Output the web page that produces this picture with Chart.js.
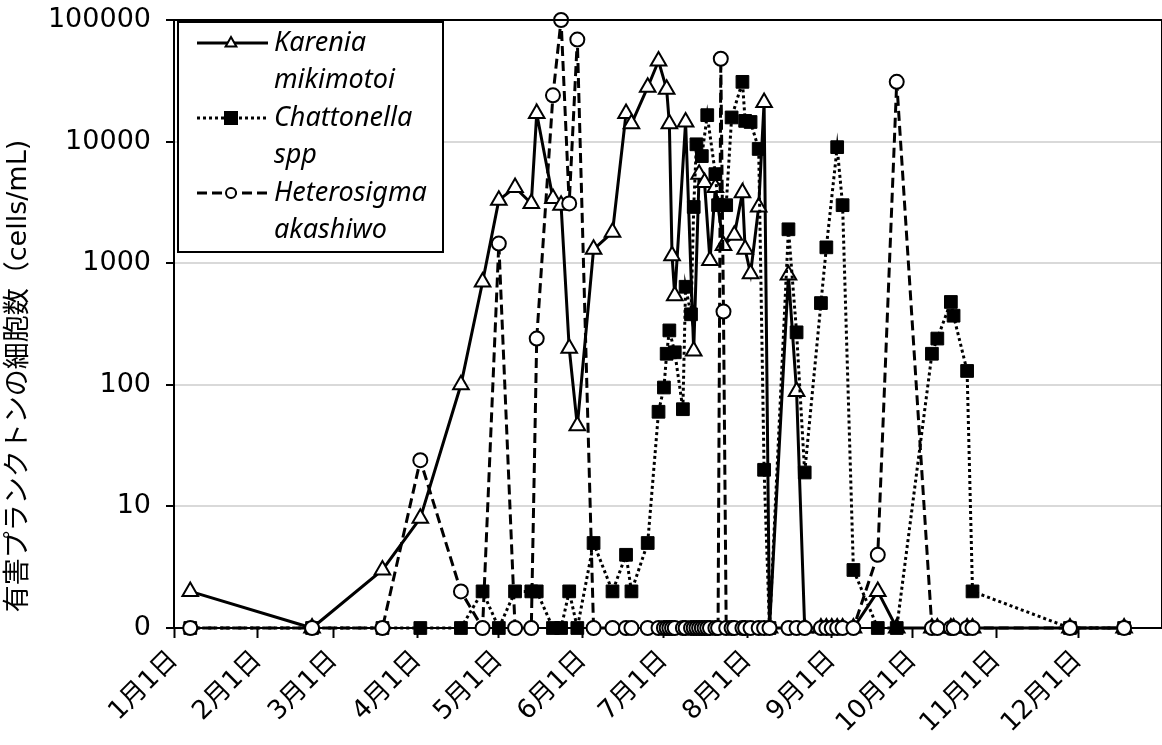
<!DOCTYPE html>
<html>
<head>
<meta charset="utf-8">
<script src="https://cdn.jsdelivr.net/npm/chart.js@4.4.1/dist/chart.umd.min.js"></script>
<style>
  html, body { margin: 0; padding: 0; background: #fff; }
  canvas { display: block; }
</style>
</head>
<body>
<canvas id="chart" width="1162" height="745"></canvas>
<script>
// sampling dates (month/day) and cell counts per species, null = no point drawn
const sampleDates = ['1/7', '2/21', '3/19', '4/2', '4/17', '4/25', '5/1', '5/7', '5/13', '5/15',
  '5/21', '5/24', '5/27', '5/30', '6/5', '6/12', '6/17', '6/19', '6/25', '6/29',
  '7/1', '7/2', '7/3', '7/4', '7/5', '7/8', '7/9', '7/11', '7/12', '7/13',
  '7/14', '7/15', '7/16', '7/17', '7/18', '7/20', '7/21', '7/22', '7/23', '7/24',
  '7/26', '7/27', '7/30', '7/31', '8/2', '8/5', '8/7', '8/9', '8/16', '8/19',
  '8/22', '8/28', '8/30', '9/1', '9/3', '9/5', '9/9', '9/18', '9/25', '10/8',
  '10/10', '10/15', '10/16', '10/21', '10/23', '11/28', '12/18'];

const karenia = [2, 0, 3, 8, 100, 700, 3300, 4200, 3100, 17000,
  3400, 3000, 200, 46, 1300, 1800, 17000, 14000, 28000, 46000,
  null, 27000, 14000, 1150, 540, null, 14500, null, 190, null,
  5400, null, 4600, null, 1050, 4200, null, null, 1400, null,
  null, 1700, 3800, 1300, 820, 2900, 21000, 0, 800, 88,
  0, 0, 0, 0, 0, 0, 0, 2, 0, 0,
  0, 0, 0, 0, 0, 0, 0];

const chattonella = [0, 0, 0, 0, 0, 2, 0, 2, 2, 2,
  0, 0, 2, 0, 5, 2, 4, 2, 5, 60,
  95, 180, 280, null, 185, 63, 640, 380, 2900, 9500,
  null, 7600, null, 16500, null, 5400, 3000, null, null, 3000,
  15800, null, 31000, 14800, 14500, 8700, 20, 0, 1900, 270,
  19, 470, 1350, null, 9000, 3000, 3, 0, 0, 180,
  240, 480, 370, 130, 2, 0, 0];

const heterosigma = [0, 0, 0, 24, 2, 0, 1450, 0, 0, 240,
  24000, 100000, 3100, 69000, 0, 0, 0, 0, 0, 0,
  0, 0, 0, 0, 0, 0, 0, 0, 0, 0,
  0, 0, 0, 0, 0, 0, 0, 48000, 400, 0,
  0, 0, 0, 0, 0, 0, 0, 0, 0, 0,
  0, 0, 0, 0, 0, 0, 0, 4, 31000, 0,
  0, 0, 0, 0, 0, 0, 0];

const monthLabels = ['1月1日', '2月1日', '3月1日', '4月1日', '5月1日', '6月1日',
  '7月1日', '8月1日', '9月1日', '10月1日', '11月1日', '12月1日'];
const yTickValues = [0, 10, 100, 1000, 10000, 100000];
const seriesNames = [['Karenia', 'mikimotoi'], ['Chattonella', 'spp'], ['Heterosigma', 'akashiwo']];
const yTitle = '有害プランクトンの細胞数（cells/mL)';

const monthStart = [0, 31, 59, 90, 120, 151, 181, 212, 243, 273, 304, 334];
const FONT = "'DejaVu Sans', 'Noto Sans CJK JP', sans-serif";

function dayOfYear(md) {
  const [m, d] = md.split('/').map(Number);
  return monthStart[m - 1] + d - 1;
}

// zero counts sit on the bottom of the log axis (labelled 0)
function toPoints(values) {
  return sampleDates.map((d, i) => ({
    x: dayOfYear(d),
    y: values[i] === null ? null : Math.max(values[i], 1)
  }));
}

const frame = {
  id: 'frame',
  afterDatasetsDraw(chart) {
    const { ctx, chartArea: a } = chart;
    ctx.save();
    ctx.strokeStyle = '#000';
    ctx.lineWidth = 2;
    ctx.beginPath();
    ctx.moveTo(a.left, a.top);
    ctx.lineTo(a.right, a.top);
    ctx.lineTo(a.right, a.bottom);
    ctx.stroke();
    ctx.restore();
  }
};

// y title sits a bit below the middle of the plot, like the original
const yTitlePlugin = {
  id: 'yTitle',
  afterDraw(chart) {
    const ctx = chart.ctx;
    ctx.save();
    ctx.translate(19, 376);
    ctx.rotate(-Math.PI / 2);
    ctx.fillStyle = '#000';
    ctx.font = '27px ' + FONT;
    ctx.textAlign = 'center';
    ctx.textBaseline = 'middle';
    ctx.fillText(yTitle, 0, 0);
    ctx.restore();
  }
};

function drawMarker(ctx, style, x, y, r) {
  ctx.beginPath();
  if (style === 'triangle') {
    ctx.moveTo(x, y - r);
    ctx.lineTo(x + r * 0.9, y + r * 0.6);
    ctx.lineTo(x - r * 0.9, y + r * 0.6);
    ctx.closePath();
    ctx.fillStyle = '#fff';
  } else if (style === 'rect') {
    ctx.rect(x - r, y - r, 2 * r, 2 * r);
    ctx.fillStyle = '#000';
  } else {
    ctx.arc(x, y, r, 0, Math.PI * 2);
    ctx.fillStyle = '#fff';
  }
  ctx.fill();
  ctx.stroke();
}

const boxLegend = {
  id: 'boxLegend',
  afterDraw(chart) {
    const ctx = chart.ctx;
    const left = chart.chartArea.left + 4, top = chart.chartArea.top + 2;
    const w = 265, h = 230;
    ctx.save();
    ctx.fillStyle = '#fff';
    ctx.fillRect(left, top, w, h);
    ctx.strokeStyle = '#000';
    ctx.lineWidth = 2;
    ctx.strokeRect(left, top, w, h);
    chart.data.datasets.forEach((ds, i) => {
      const y = top + 21 + i * 75;
      ctx.strokeStyle = '#000';
      ctx.lineWidth = ds.borderWidth;
      ctx.setLineDash(ds.borderDash || []);
      ctx.beginPath();
      ctx.moveTo(left + 19, y);
      ctx.lineTo(left + 90, y);
      ctx.stroke();
      ctx.setLineDash([]);
      ctx.lineWidth = 2;
      drawMarker(ctx, ds.pointStyle, left + 53, y, ds.pointStyle === 'circle' ? 5 : 6);
      ctx.fillStyle = '#000';
      ctx.font = "italic 27px 'Noto Sans', sans-serif";
      ctx.textBaseline = 'middle';
      ctx.textAlign = 'left';
      ctx.fillText(seriesNames[i][0], left + 96, y);
      ctx.fillText(seriesNames[i][1], left + 96, y + 37.5);
    });
    ctx.restore();
  }
};

new Chart(document.getElementById('chart'), {
  type: 'line',
  data: {
    datasets: [
      {
        label: seriesNames[0].join(' '),
        data: toPoints(karenia),
        order: 3,
        borderColor: '#000',
        borderWidth: 3,
        pointStyle: 'triangle',
        pointRadius: 9,
        pointBorderWidth: 2,
        pointBackgroundColor: '#fff',
        pointBorderColor: '#000'
      },
      {
        label: seriesNames[1].join(' '),
        data: toPoints(chattonella),
        order: 2,
        borderColor: '#000',
        borderWidth: 3,
        borderDash: [3, 3],
        pointStyle: 'rect',
        pointRadius: 9,
        pointBorderWidth: 1,
        pointBackgroundColor: '#000',
        pointBorderColor: '#000'
      },
      {
        label: seriesNames[2].join(' '),
        data: toPoints(heterosigma),
        order: 1,
        borderColor: '#000',
        borderWidth: 3,
        borderDash: [10, 5],
        pointStyle: 'circle',
        pointRadius: 7,
        pointBorderWidth: 2,
        pointBackgroundColor: '#fff',
        pointBorderColor: '#000'
      }
    ]
  },
  options: {
    responsive: false,
    animation: false,
    devicePixelRatio: 1,
    spanGaps: true,
    layout: { autoPadding: false, padding: { top: 20, right: 0, left: 0, bottom: 0 } },
    datasets: { line: { clip: false, tension: 0, fill: false } },
    plugins: { legend: { display: false }, tooltip: { enabled: false } },
    scales: {
      x: {
        type: 'linear',
        min: 0,
        max: 365,
        afterBuildTicks: s => { s.ticks = monthStart.map(v => ({ value: v })); },
        afterFit: s => { s.height = 117; s.paddingLeft = 0; s.paddingRight = 0; },
        ticks: {
          autoSkip: false,
          minRotation: 45,
          maxRotation: 45,
          padding: 7,
          color: '#000',
          font: { family: FONT, size: 26 },
          callback: (v, i) => monthLabels[i]
        },
        grid: { drawOnChartArea: false, drawTicks: true, tickLength: 10, tickColor: '#000', tickWidth: 2 },
        border: { color: '#000', width: 2 }
      },
      y: {
        type: 'logarithmic',
        min: 1,
        max: 100000,
        afterBuildTicks: s => { s.ticks = yTickValues.map(v => ({ value: Math.max(v, 1) })); },
        afterFit: s => { s.width = 174; s.paddingTop = 0; s.paddingBottom = 0; },
        ticks: {
          padding: 15,
          color: '#000',
          font: { family: FONT, size: 27 },
          callback: v => (v === 1 ? '0' : String(v))
        },
        grid: { color: '#d9d9d9', lineWidth: 2, drawTicks: true, tickLength: 8, tickColor: '#000', tickWidth: 2 },
        border: { color: '#000', width: 2 }
      }
    }
  },
  plugins: [frame, boxLegend, yTitlePlugin]
});
</script>
</body>
</html>
